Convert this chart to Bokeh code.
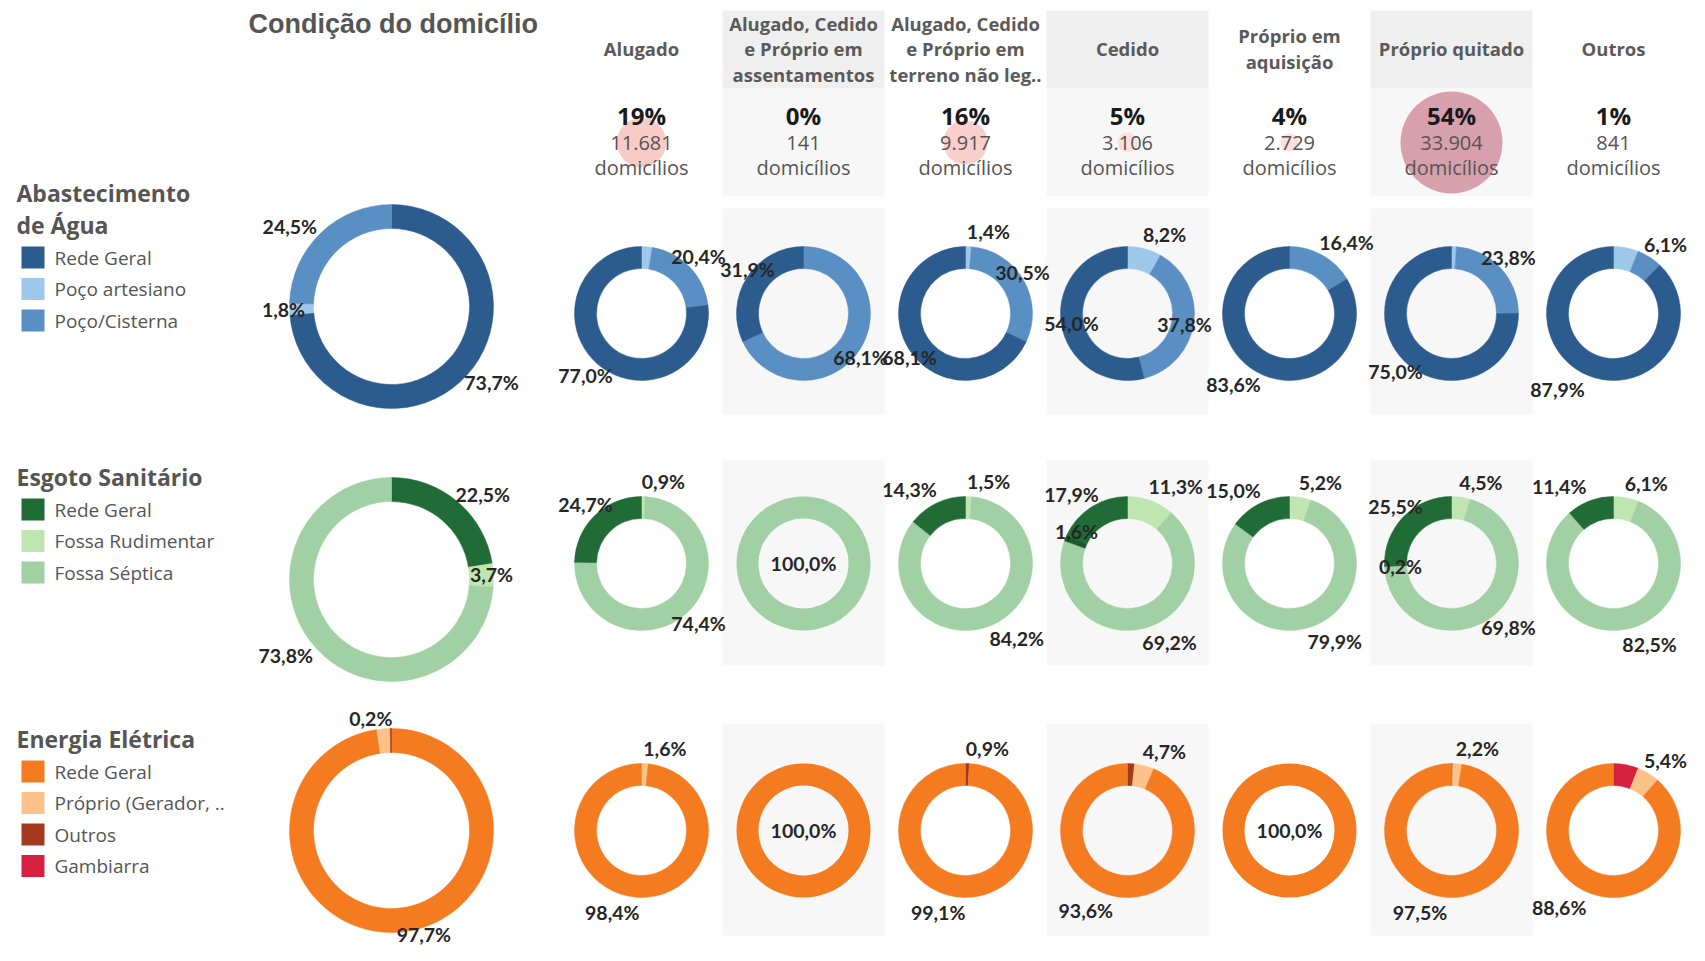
import math
from bokeh.plotting import figure
from bokeh.models import Range1d
from bokeh.core.properties import value
from bokeh.embed import file_html
from bokeh.resources import INLINE

# ---------------- data ----------------
chart_title = "Condição do domicílio"
column_titles = [
    ["Alugado"],
    ["Alugado, Cedido", "e Próprio em", "assentamentos"],
    ["Alugado, Cedido", "e Próprio em", "terreno não leg.."],
    ["Cedido"],
    ["Próprio em", "aquisição"],
    ["Próprio quitado"],
    ["Outros"],
]
households = [11681, 141, 9917, 3106, 2729, 33904, 841]
households_unit = "domicílios"

agua_title = ["Abastecimento", "de Água"]
agua_categories = ["Rede Geral", "Poço artesiano", "Poço/Cisterna"]
agua_colors = ["#2c5b8e", "#9dc8ea", "#5a8fc4"]
agua_total = [73.7, 1.8, 24.5]
agua_rede_geral = [77.0, 31.9, 68.1, 54.0, 83.6, 75.0, 87.9]
agua_poco_artesiano = [2.6, 0.0, 1.4, 8.2, 0.0, 1.2, 6.0]
agua_poco_cisterna = [20.4, 68.1, 30.5, 37.8, 16.4, 23.8, 6.1]
agua_hidden_labels = [(1, 0), (1, 5), (1, 6)]
agua_small_order = [1, 2, 0]

esgoto_title = ["Esgoto Sanitário"]
esgoto_categories = ["Rede Geral", "Fossa Rudimentar", "Fossa Séptica", "Outros"]
esgoto_legend_count = 3
esgoto_colors = ["#216b37", "#bfe6b1", "#a0d0a3", "#1b5a2d"]
esgoto_total = [22.5, 3.7, 73.8, 0.0]
esgoto_rede_geral = [24.7, 0.0, 14.3, 17.9, 15.0, 25.5, 11.4]
esgoto_fossa_rudimentar = [0.9, 0.0, 1.5, 11.3, 5.2, 4.5, 6.1]
esgoto_fossa_septica = [74.4, 100.0, 84.2, 69.2, 79.9, 69.8, 82.5]
esgoto_outros = [0.0, 0.0, 0.0, 1.6, 0.0, 0.2, 0.0]
esgoto_hidden_labels = []
esgoto_small_order = [1, 2, 3, 0]

energia_title = ["Energia Elétrica"]
energia_categories = ["Rede Geral", "Próprio (Gerador, ..", "Outros", "Gambiarra"]
energia_colors = ["#f47b20", "#fdc28a", "#a3391d", "#d62040"]
energia_total = [97.7, 2.1, 0.2, 0.0]
energia_rede_geral = [98.4, 100.0, 99.1, 93.6, 100.0, 97.5, 88.6]
energia_proprio = [1.6, 0.0, 0.0, 4.7, 0.0, 2.2, 5.4]
energia_outros = [0.0, 0.0, 0.9, 1.7, 0.0, 0.3, 0.0]
energia_gambiarra = [0.0, 0.0, 0.0, 0.0, 0.0, 0.0, 6.0]
energia_hidden_labels = [(1, -1), (2, 3), (2, 5), (3, 6)]
energia_small_order = [2, 3, 1, 0]

themes = [
    dict(title=agua_title, cats=agua_categories, colors=agua_colors, legend_n=3,
         total=agua_total, cols=[agua_rede_geral, agua_poco_artesiano, agua_poco_cisterna],
         order=agua_small_order, hidden=agua_hidden_labels),
    dict(title=esgoto_title, cats=esgoto_categories, colors=esgoto_colors, legend_n=esgoto_legend_count,
         total=esgoto_total, cols=[esgoto_rede_geral, esgoto_fossa_rudimentar, esgoto_fossa_septica, esgoto_outros],
         order=esgoto_small_order, hidden=esgoto_hidden_labels),
    dict(title=energia_title, cats=energia_categories, colors=energia_colors, legend_n=4,
         total=energia_total, cols=[energia_rede_geral, energia_proprio, energia_outros, energia_gambiarra],
         order=energia_small_order, hidden=energia_hidden_labels),
]

# ---------------- layout ----------------
W, H = 1689, 945
COL_X = [641 + 162 * j for j in range(7)]
HALF_COL = 81
SHADED = [1, 3, 5]
BIG_X = 391
BIG_Y = [306, 579, 830]
SMALL_Y = [313, 563, 830]
R_BIG, r_BIG = 102, 78
R_SMALL, r_SMALL = 67, 45
PANEL_Y = [(208, 414), (460, 665), (723, 935)]
LEG_TITLE_Y = [192, 476, 738]
LEG_ITEM_Y0 = [257, 509, 771]
LEG_STEP = 31.5
# label placement: (positive cap, negative factor, negative cap, vertical pad)
BIG_LBL = (80, 1.08, 88, 10)
SMALL_LBL = (32, 1.25, 31, 15)

SANS = value("Open Sans")
LBL = value("Lato")

p = figure(width=W, height=H, x_range=Range1d(0, W), y_range=Range1d(-H, 0),
           output_backend="svg", toolbar_location=None, x_axis_location=None,
           y_axis_location=None, min_border=0)
p.grid.visible = False
p.outline_line_color = None
p.background_fill_color = "white"
p.border_fill_color = "white"


def Y(py):
    return -py


def add_text(xs, ys, texts, font, size, style, color, align="center", baseline="middle"):
    p.text(x=xs, y=[Y(v) for v in ys], text=texts, text_font=font, text_font_size=size,
           text_font_style=style, text_color=color, text_align=align, text_baseline=baseline)


# shaded panels
lefts = [COL_X[j] - HALF_COL for j in SHADED]
rights = [COL_X[j] + HALF_COL for j in SHADED]
p.quad(left=lefts, right=rights, top=[Y(10)] * 3, bottom=[Y(88)] * 3, fill_color="#efefef", line_color=None)
p.quad(left=lefts, right=rights, top=[Y(88)] * 3, bottom=[Y(196)] * 3, fill_color="#f7f7f7", line_color=None)
for (y0, y1) in PANEL_Y:
    p.quad(left=lefts, right=rights, top=[Y(y0)] * 3, bottom=[Y(y1)] * 3, fill_color="#f7f7f7", line_color=None)

# title
add_text([248], [23], [chart_title], value("Liberation Sans"), "27px", "bold", "#555555", align="left")

# headers
hx, hy, ht = [], [], []
for j, lines in enumerate(column_titles):
    n = len(lines)
    for k, line in enumerate(lines):
        hx.append(COL_X[j])
        hy.append(48 + (k - (n - 1) / 2) * 25.5)
        ht.append(line)
add_text(hx, hy, ht, SANS, "18.5px", "bold", "#5a5a5a")

# bubbles + stats
total = sum(households)
shares = [h / total for h in households]
smax = max(shares)


def lerp(c0, c1, t):
    return tuple(int(round(a + (b - a) * t)) for a, b in zip(c0, c1))


def bubble_color(t):
    a, b, c = (252, 230, 228), (248, 203, 198), (216, 160, 173)
    if t < 0.35:
        rgb = lerp(a, b, t / 0.35)
    else:
        rgb = lerp(b, c, (t - 0.35) / 0.65)
    return "#%02x%02x%02x" % rgb


bx, by, br, bc = [], [], [], []
for j, s in enumerate(shares):
    t = s / smax
    if t <= 0.01:
        continue
    bx.append(COL_X[j]); by.append(Y(142)); br.append(51 * t ** 0.68); bc.append(bubble_color(t))
p.circle(x=bx, y=by, radius=br, fill_color=bc, line_color=None)

add_text(COL_X, [115] * 7, [f"{round(s * 100)}%" for s in shares], SANS, "24px", "bold", "#1a1a1a")
add_text(COL_X, [142] * 7, [f"{h:,}".replace(",", ".") for h in households], SANS, "20px", "normal", "#555555")
add_text(COL_X, [167] * 7, [households_unit] * 7, SANS, "20px", "normal", "#555555")


def fmt_pct(v):
    return f"{v:.1f}".replace(".", ",") + "%"


wedges = dict(x=[], y=[], start=[], end=[], color=[], R=[], r=[])
rings = dict(x=[], y=[], color=[], R=[], r=[])
labels = dict(x=[], y=[], text=[])


def donut(cx, cy, R, r, vals, colors, order, hidden_idx, lbl):
    pos_cap, neg_f, neg_cap, vpad = lbl
    tot = sum(vals)
    cum = 0.0
    for i in order:
        v = vals[i]
        if v <= 0:
            continue
        f0 = cum / tot
        cum += v
        f1 = cum / tot
        if f1 - f0 > 0.999:
            rings["x"].append(cx); rings["y"].append(Y(cy)); rings["color"].append(colors[i])
            rings["R"].append(R); rings["r"].append(r)
        else:
            wedges["x"].append(cx); wedges["y"].append(Y(cy))
            wedges["start"].append(math.pi / 2 - 2 * math.pi * f1)
            wedges["end"].append(math.pi / 2 - 2 * math.pi * f0)
            wedges["color"].append(colors[i])
            wedges["R"].append(R); wedges["r"].append(r)
        if i in hidden_idx:
            continue
        txt = fmt_pct(v)
        if v >= 99.95:
            lx, ly = cx, cy
        else:
            th = math.pi * (f0 + f1)
            s, c = math.sin(th), math.cos(th)
            hw = 5.0 * len(txt)
            if s >= 0:
                lx = cx + hw + min(R * s, pos_cap)
            else:
                lx = cx - hw - min(neg_f * R * (-s), neg_cap)
            ly = cy - (R + vpad) * c
        ly = min(ly, H - 11)
        labels["x"].append(lx); labels["y"].append(Y(ly)); labels["text"].append(txt)


for ri, th in enumerate(themes):
    n = len(th["cats"])
    big_hidden = [c for (c, col) in th["hidden"] if col == -1]
    donut(BIG_X, BIG_Y[ri], R_BIG, r_BIG, th["total"], th["colors"], list(range(n)), big_hidden, BIG_LBL)
    for j in range(7):
        vals = [th["cols"][c][j] for c in range(n)]
        hid = [c for (c, col) in th["hidden"] if col == j]
        donut(COL_X[j], SMALL_Y[ri], R_SMALL, r_SMALL, vals, th["colors"], th["order"], hid, SMALL_LBL)

    # legend
    ty = LEG_TITLE_Y[ri]
    add_text([16] * len(th["title"]), [ty + 32 * k for k in range(len(th["title"]))], th["title"],
             SANS, "23px", "bold", "#555555", align="left")
    m = th["legend_n"]
    iy = [LEG_ITEM_Y0[ri] + LEG_STEP * k for k in range(m)]
    p.quad(left=[21] * m, right=[44] * m, top=[Y(v - 11) for v in iy], bottom=[Y(v + 11) for v in iy],
           fill_color=th["colors"][:m], line_color=None)
    add_text([54] * m, iy, th["cats"][:m], SANS, "19px", "normal", "#555555", align="left")

p.annular_wedge(x=wedges["x"], y=wedges["y"], inner_radius=wedges["r"], outer_radius=wedges["R"],
                start_angle=wedges["start"], end_angle=wedges["end"], direction="anticlock",
                fill_color=wedges["color"], line_color=wedges["color"], line_width=0.5)
p.annulus(x=rings["x"], y=rings["y"], inner_radius=rings["r"], outer_radius=rings["R"],
          fill_color=rings["color"], line_color=None)

p.text(x=labels["x"], y=labels["y"], text=labels["text"], text_font=LBL, text_font_size="19.5px",
       text_font_style="bold", text_color="#262626", text_align="center", text_baseline="middle")

open("out.html", "w").write(file_html(p, INLINE, "Condição do domicílio"))
